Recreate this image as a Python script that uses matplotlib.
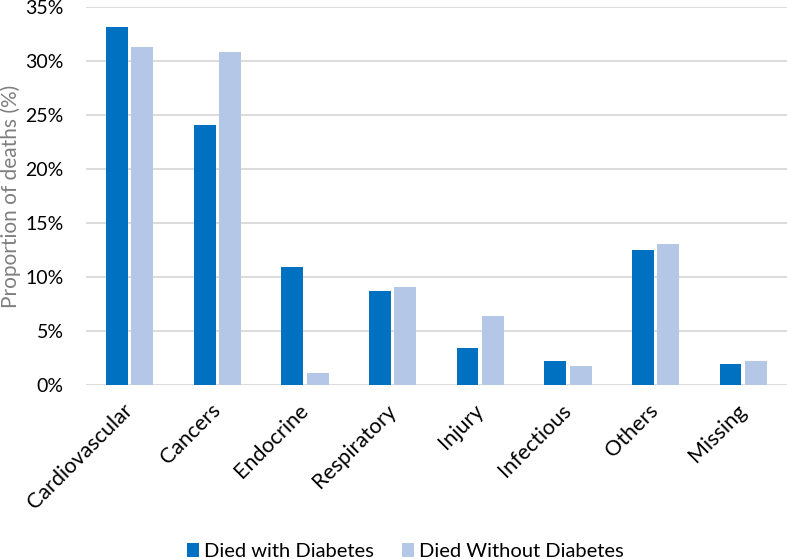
import numpy as np
import matplotlib
matplotlib.use('Agg')
import matplotlib.pyplot as plt
from matplotlib.ticker import PercentFormatter

categories = ['Cardiovascular', 'Cancers', 'Endocrine', 'Respiratory',
              'Injury', 'Infectious', 'Others', 'Missing']
with_diabetes = [33.1, 24.1, 10.9, 8.7, 3.4, 2.2, 12.5, 2.0]
without_diabetes = [31.3, 30.8, 1.1, 9.1, 6.4, 1.8, 13.1, 2.2]

plt.rcParams['font.family'] = ['Lato', 'DejaVu Sans']

fig = plt.figure(figsize=(7.87, 5.59), dpi=100)
ax = fig.add_axes([0.109, 0.311, 0.891, 0.677])

x = np.arange(len(categories))
w = 0.25
gap = 0.04
ax.bar(x - (w + gap) / 2, with_diabetes, width=w, color='#0070C0',
       label='Died with Diabetes', zorder=3)
ax.bar(x + (w + gap) / 2, without_diabetes, width=w, color='#B4C7E7',
       label='Died Without Diabetes', zorder=3)

ax.set_xlim(-0.5, len(categories) - 0.5)
ax.set_ylim(0, 35)
ax.set_yticks(np.arange(0, 36, 5))
ax.yaxis.set_major_formatter(PercentFormatter(decimals=0))
ax.grid(axis='y', color='#D9D9D9', linewidth=1.3, zorder=0)
for s in ax.spines.values():
    s.set_visible(False)
ax.tick_params(axis='both', length=0, colors='black')
ax.tick_params(axis='y', labelsize=14, pad=16)
ax.tick_params(axis='x', labelsize=15.5, pad=16)
ax.set_xticks(x)
ax.set_xticklabels(categories, rotation=45, ha='right', va='center',
                   rotation_mode='anchor')

fig.text(11 / 787, ax.get_position().y0 + ax.get_position().height / 2,
         'Proportion of deaths (%)', rotation=90, fontsize=15,
         color='#7F7F7F', ha='center', va='center')

handles, labels = ax.get_legend_handles_labels()
fig.legend(handles, labels, loc='center', bbox_to_anchor=(0.515, 0.0135), ncol=2,
           frameon=False, fontsize=14.5, handlelength=0.6, handleheight=0.7,
           handletextpad=0.25, columnspacing=1.4, borderaxespad=0, borderpad=0)

fig.savefig('out.png', dpi=100)
